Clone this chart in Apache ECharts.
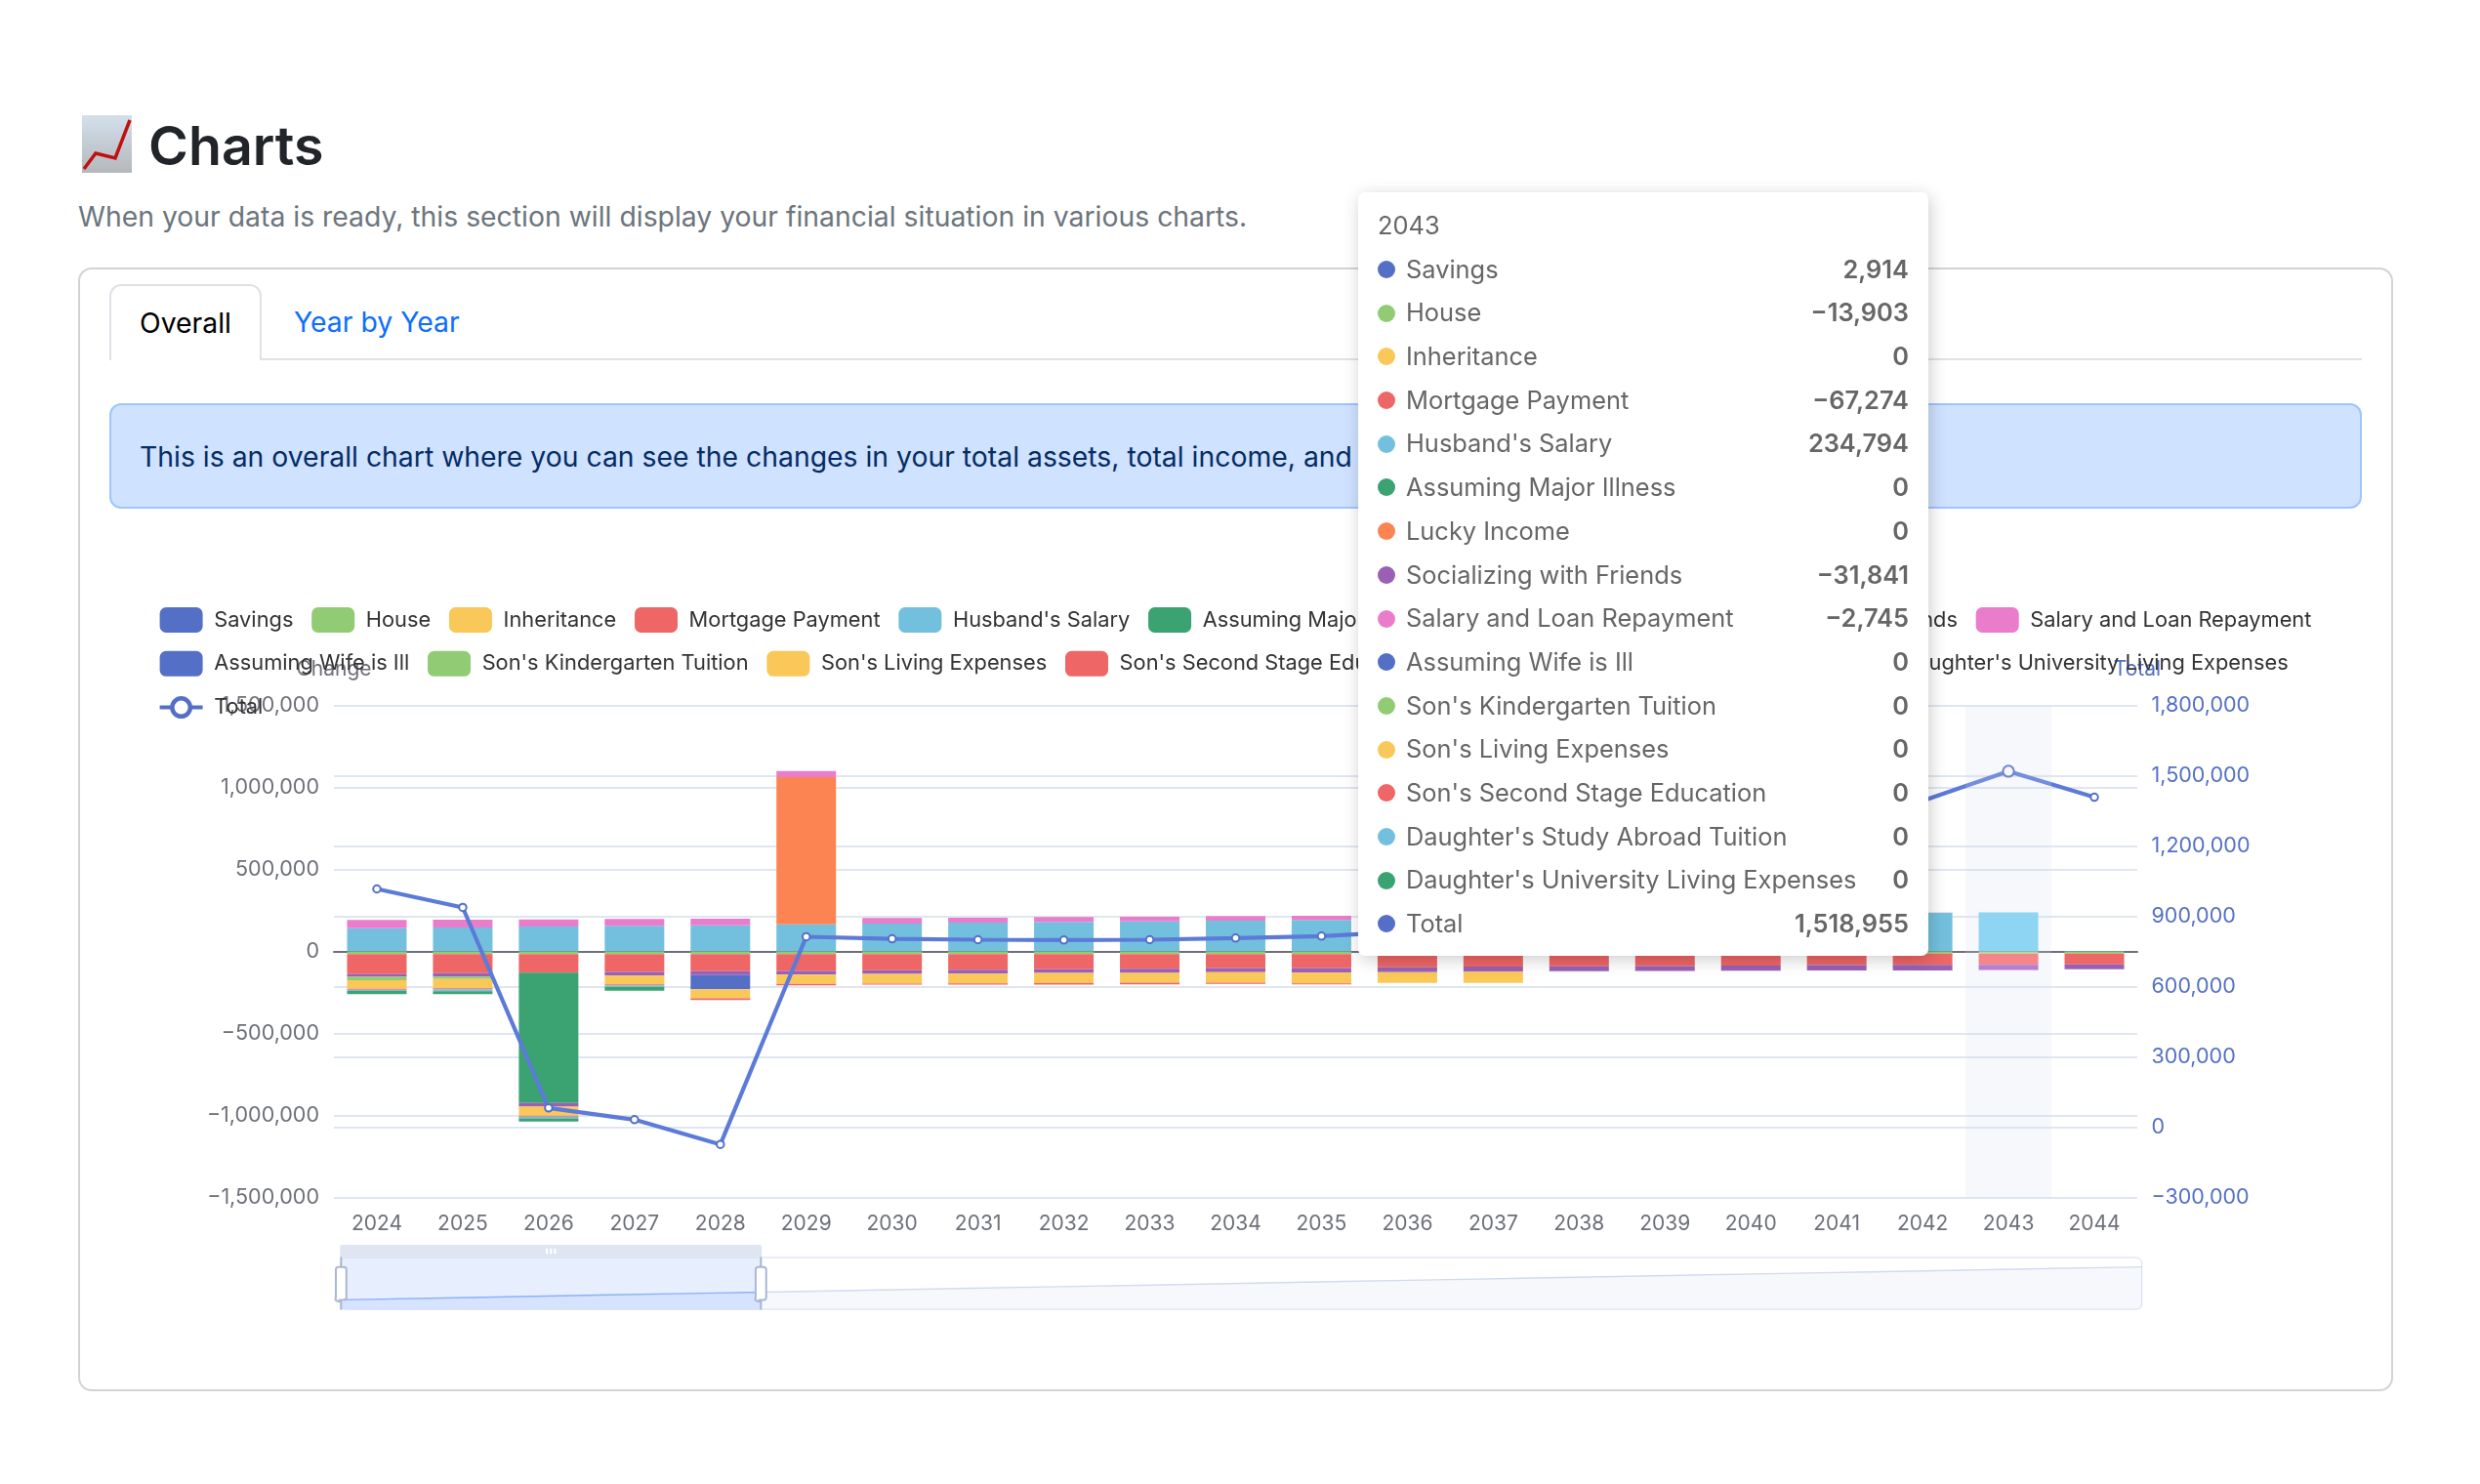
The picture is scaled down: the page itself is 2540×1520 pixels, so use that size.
<!DOCTYPE html>
<html>
<head>
<meta charset="utf-8">
<title>Charts</title>
<script src="https://cdn.jsdelivr.net/npm/echarts@6/dist/echarts.min.js"></script>
<style>
  html, body { margin: 0; padding: 0; background: #fff; }
  body { width: 2540px; height: 1520px; position: relative; overflow: hidden; font-family: Inter, "Liberation Sans", sans-serif; }
  .abs { position: absolute; white-space: nowrap; }
  #chart { position: absolute; left: 0; top: 0; width: 2540px; height: 1520px; }
  h1 { margin: 0; left: 152px; top: 109px; font-size: 55.5px; line-height: 80px; font-weight: 600; color: #212529; }
  .lead { left: 80px; top: 201px; font-size: 28.35px; line-height: 42px; color: #6c757d; }
  .card { left: 80px; top: 274px; width: 2371px; height: 1151px; box-sizing: border-box; border: 2px solid #d3d3d3; border-radius: 14px; }
  .tabline { left: 112px; top: 367px; width: 2307px; height: 2px; background: #dee2e6; }
  .tab { left: 112px; top: 291px; width: 156px; height: 78px; box-sizing: border-box; border: 2px solid #dee2e6; border-bottom: 0; border-radius: 12px 12px 0 0; background: #fff; text-align: center; font-size: 28.35px; line-height: 76px; color: #000; }
  .tab2 { left: 301px; top: 291px; font-size: 28.35px; line-height: 78px; color: #0d6efd; }
  .alert { left: 112px; top: 413px; width: 2307px; height: 108px; box-sizing: border-box; border: 2px solid #9ec5fe; border-radius: 12px; background: #cfe2ff; color: #052c65; font-size: 28.35px; line-height: 106px; padding-left: 29px; }
</style>
</head>
<body>
<svg class="abs" style="left:84px;top:118px" width="51" height="59" viewBox="0 0 51 59">
  <defs><linearGradient id="em" x1="0" y1="0" x2="0" y2="1"><stop offset="0" stop-color="#d3e0ec"/><stop offset="1" stop-color="#b4b8bc"/></linearGradient></defs>
  <rect width="51" height="59" fill="url(#em)"/>
  <polyline points="2,55 14,39 34,44 49,5" fill="none" stroke="#c21010" stroke-width="3.5"/>
</svg>
<h1 class="abs">Charts</h1>
<div class="abs lead">When your data is ready, this section will display your financial situation in various charts.</div>
<div class="abs card"></div>
<div class="abs tabline"></div>
<div class="abs tab">Overall</div>
<div class="abs tab2">Year by Year</div>
<div class="abs alert">This is an overall chart where you can see the changes in your total assets, total income, and expenses.</div>
<div id="chart"></div>

<script>
const years = [2024, 2025, 2026, 2027, 2028, 2029, 2030, 2031, 2032, 2033, 2034, 2035, 2036, 2037, 2038, 2039, 2040, 2041, 2042, 2043, 2044]

const savings = [2700, 2800, 2600, 2900, 2500, 3100, 2800, 2900, 3000, 2800, 2900, 3000, 2800, 2900, 2700, 2800, 3000, 2900, 2800, 2914, 3000]
const house = [-16000, -16000, -16000, -16000, -16000, -16000, -16000, -16000, -16000, -16000, -16000, -16000, -15000, -15000, -15000, -15000, -14500, -14000, -14000, -13903, -13903]
const inheritance = [0, 0, 0, 0, 0, 0, 0, 0, 0, 0, 0, 0, 0, 0, 0, 0, 0, 0, 0, 0, 0]
const mortgage = [-123000, -117000, -113000, -109000, -105000, -103000, -99200, -95200, -93200, -89300, -85300, -85300, -81000, -78000, -76000, -74000, -72000, -70000, -68000, -67274, -65000]
const husbandSalary = [139000, 142800, 148800, 152800, 156700, 162700, 166700, 172600, 176600, 180500, 184500, 188500, 197000, 203000, 209000, 215000, 221000, 227000, 233000, 234794, 0]
const majorIllness = [0, 0, -795600, 0, 0, 0, 0, 0, 0, 0, 0, 0, 0, 0, 0, 0, 0, 0, 0, 0, 0]
const luckyIncome = [0, 0, 0, 0, 0, 896800, 0, 0, 0, 0, 0, 0, 0, 0, 0, 0, 0, 0, 0, 0, 0]
const socializing = [-16000, -19800, -21800, -21800, -23800, -21800, -21800, -23800, -21800, -25800, -25800, -27800, -29800, -29800, -29800, -29800, -31700, -31700, -33700, -31841, -30000]
const salaryLoan = [49600, 47600, 43600, 41700, 39700, 37700, 33700, 29800, 29800, 27800, 27800, 25800, 24000, 22000, 20000, 17000, 13000, 8000, 1000, -2745, 0]
const wifeIll = [0, 0, 0, 0, -85300, 0, 0, 0, 0, 0, 0, 0, 0, 0, 0, 0, 0, 0, 0, 0, 0]
const kindergarten = [-20000, -15900, 0, 0, 0, 0, 0, 0, 0, 0, 0, 0, 0, 0, 0, 0, 0, 0, 0, 0, 0]
const sonLiving = [-53000, -55500, -55500, -53600, -55500, -57500, -59500, -59500, -61500, -59500, -63500, -65500, -65500, -69400, 0, 0, 0, 0, 0, 0, 0]
const sonSecondStage = [-5000, -6000, -6000, -6000, -9900, -7900, -6000, -7900, -9900, -9900, -7900, -6000, 0, 0, 0, 0, 0, 0, 0, 0, 0]
const daughterAbroad = [-8000, -11900, -10000, -10000, 0, 0, 0, 0, 0, 0, 0, 0, 0, 0, 0, 0, 0, 0, 0, 0, 0]
const daughterLiving = [-20000, -17900, -19800, -23800, 0, 0, 0, 0, 0, 0, 0, 0, 0, 0, 0, 0, 0, 0, 0, 0, 0]
const total = [1016700, 937600, 82000, 32000, -73600, 812600, 804000, 800000, 798600, 800000, 807000, 815300, 835000, 880000, 945000, 1020000, 1110000, 1240000, 1393000, 1518955, 1408000]

const barNames = ['Savings', 'House', 'Inheritance', 'Mortgage Payment', "Husband's Salary", 'Assuming Major Illness', 'Lucky Income', 'Socializing with Friends', 'Salary and Loan Repayment', 'Assuming Wife is Ill', "Son's Kindergarten Tuition", "Son's Living Expenses", "Son's Second Stage Education", "Daughter's Study Abroad Tuition", "Daughter's University Living Expenses"]
const barValues = [savings, house, inheritance, mortgage, husbandSalary, majorIllness, luckyIncome, socializing, salaryLoan, wifeIll, kindergarten, sonLiving, sonSecondStage, daughterAbroad, daughterLiving]
const barColors = ['#5470c6', '#91cc75', '#fac858', '#ee6666', '#73c0de', '#3ba272', '#fc8452', '#9a60b4', '#ea7ccc', '#5470c6', '#91cc75', '#fac858', '#ee6666', '#73c0de', '#3ba272']
const lineColor = '#5470c6'

// the stock legend icon for a line has a thin ring, this one is line + thick ring
const totalIcon = 'path://M0,10H11V14H0ZM33,10H44V14H33ZM22,0.5A11.5,11.5,0,1,1,21.99,0.5ZM22,5A7,7,0,1,0,22.01,5Z'

const fmt = (v) => v.toLocaleString('en-US').replace('-', '\u2212')

const chart = echarts.init(document.getElementById('chart'))

const series = barNames.map((name, i) => ({
  name,
  type: 'bar',
  stack: 'change',
  barWidth: 61,
  itemStyle: { color: barColors[i] },
  data: barValues[i]
}))
series.push({
  name: 'Total',
  type: 'line',
  yAxisIndex: 1,
  symbol: 'emptyCircle',
  symbolSize: 7.5,
  itemStyle: { color: lineColor, borderWidth: 3.8 },
  lineStyle: { color: lineColor, width: 4.2 },
  emphasis: { scale: 1.5 },
  data: total
})
// only here so the slider below the chart has something to shade
series.push({
  name: 'overview',
  type: 'line',
  xAxisIndex: 1,
  yAxisIndex: 2,
  symbol: 'none',
  silent: true,
  lineStyle: { opacity: 0 },
  tooltip: { show: false },
  data: years
})

const option = {
  animation: false,
  textStyle: { fontFamily: 'Inter, sans-serif' },
  legend: {
    left: 158.6,
    top: 617,
    width: 2290,
    itemWidth: 44,
    itemHeight: 26,
    itemGap: 18.8,
    textStyle: { fontSize: 21.8, color: '#333', padding: [0, 0, 0, 6.6] },
    data: barNames.concat([{ name: 'Total', icon: totalIcon, itemStyle: { color: lineColor } }])
  },
  grid: { left: 342, right: 351, top: 722.5, bottom: 293.5, containLabel: false },
  tooltip: {
    trigger: 'axis',
    axisPointer: { type: 'shadow', shadowStyle: { color: 'rgba(210,219,238,0.2)' } },
    alwaysShowContent: true,
    transitionDuration: 0,
    padding: 0,
    borderWidth: 0,
    backgroundColor: '#fff',
    extraCssText: 'border-radius:7px;box-shadow:2px 4px 18px rgba(0,0,0,.2);',
    position: [1391, 197],
    formatter: (params) => {
      const rows = params.filter((p) => p.seriesName !== 'overview').map((p) =>
        '<div style="display:flex;height:44.7px;line-height:44.7px;align-items:center">' +
        '<span style="width:18px;height:18px;border-radius:9px;margin-right:11px;background:' + p.color + '"></span>' +
        '<span style="flex:1">' + p.seriesName + '</span>' +
        '<span style="font-weight:600">' + fmt(p.value) + '</span></div>').join('')
      return '<div style="box-sizing:border-box;width:584px;height:782px;padding:12px 20px 0 20px;font-size:25.4px;color:#666;font-family:Inter,sans-serif">' +
        '<div style="height:44.7px;line-height:44.7px">' + params[0].name + '</div>' + rows + '</div>'
    }
  },
  xAxis: [
    {
      type: 'category',
      data: years.map(String),
      axisLine: { lineStyle: { color: '#6e7079', width: 2 } },
      axisTick: { length: 8, lineStyle: { color: '#6e7079', width: 2 } },
      axisLabel: { fontSize: 21, color: '#6e7079', margin: 17 }
    },
    { type: 'category', data: years.map(String), show: false, axisPointer: { show: false } }
  ],
  yAxis: [
    {
      type: 'value',
      name: 'Change',
      nameGap: 26,
      nameTextStyle: { fontSize: 21, color: '#6e7079' },
      min: -1500000,
      max: 1500000,
      interval: 500000,
      axisLabel: { fontSize: 21.5, color: '#6e7079', margin: 15, padding: [3, 0, 0, 0], formatter: fmt },
      splitLine: { lineStyle: { color: '#e0e6f1', width: 2 } }
    },
    {
      type: 'value',
      name: 'Total',
      nameGap: 26,
      nameTextStyle: { fontSize: 21, color: lineColor },
      min: -300000,
      max: 1800000,
      interval: 300000,
      position: 'right',
      axisLine: { lineStyle: { color: lineColor } },
      axisLabel: { fontSize: 21.5, color: lineColor, margin: 14.5, padding: [3, 0, 0, 0], formatter: fmt },
      splitLine: { lineStyle: { color: '#e0e6f1', width: 2 } }
    },
    { type: 'value', show: false, scale: true }
  ],
  dataZoom: [{
    type: 'slider',
    xAxisIndex: 1,
    left: 343,
    width: 1846,
    top: 1275,
    height: 54,
    start: 0,
    end: 23.4,
    showDetail: false,
    showDataShadow: true,
    borderColor: '#d2dbee',
    borderRadius: 6,
    fillerColor: 'rgba(135,175,274,0.2)',
    backgroundColor: 'rgba(47,69,84,0)',
    dataBackground: {
      lineStyle: { color: '#d2dbee', width: 1.5 },
      areaStyle: { color: '#d2dbee', opacity: 0.2 }
    },
    selectedDataBackground: {
      lineStyle: { color: '#8fb0f7', width: 1.5 },
      areaStyle: { color: '#8fb0f7', opacity: 0.2 }
    },
    handleIcon: 'path://M-9.35,34.56V42m0-40V9.5m-2,0h4a2,2,0,0,1,2,2v21a2,2,0,0,1-2,2h-4a2,2,0,0,1-2-2v-21A2,2,0,0,1-9.35,9.5Z',
    handleSize: '100%',
    handleStyle: { color: '#fff', borderColor: '#acb8d1', borderWidth: 2 },
    moveHandleSize: 13,
    moveHandleStyle: { color: '#dfe5f1', opacity: 1 }
  }],
  series
}

chart.setOption(option)
chart.dispatchAction({ type: 'showTip', seriesIndex: 15, dataIndex: 19 })
</script>
</body>
</html>
